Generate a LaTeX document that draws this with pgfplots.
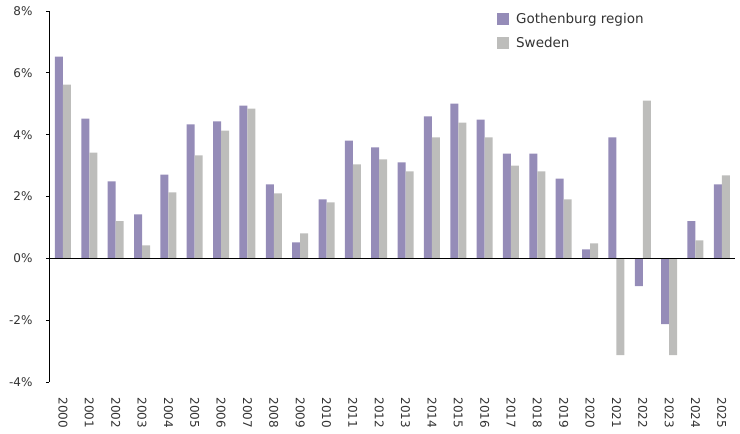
\documentclass[border=0pt]{standalone}
\usepackage{fontspec}
\setmainfont{DejaVu Sans}
\usepackage{pgfplots}
\pgfplotsset{compat=1.18}

\definecolor{gbg}{HTML}{958CB8}
\definecolor{swe}{HTML}{BDBDBB}
\definecolor{txt}{HTML}{333333}

% growth per year, 2000 = 0 ... 2025 = 25
\pgfplotstableread{
x  gbg    swe
0  6.52   5.62
1  4.52   3.42
2  2.49   1.20
3  1.42   0.42
4  2.71   2.13
5  4.33   3.33
6  4.43   4.13
7  4.94   4.84
8  2.39   2.10
9  0.52   0.81
10 1.91   1.81
11 3.81   3.04
12 3.59   3.20
13 3.10   2.81
14 4.59   3.91
15 5.00   4.39
16 4.49   3.91
17 3.39   3.00
18 3.39   2.81
19 2.58   1.91
20 0.29   0.48
21 3.91  -3.13
22 -0.90  5.10
23 -2.13 -3.13
24 1.20   0.58
25 2.39   2.68
}\growth

\begin{document}
\begin{tikzpicture}
\path (-49pt,-52pt) rectangle (691pt,382pt);
\begin{axis}[
    at={(0pt,0pt)}, anchor=south west,
    scale only axis,
    width=686pt, height=371pt,
    ybar=0pt, bar width=8pt,
    xmin=-0.53, xmax=25.5,
    ymin=-4, ymax=8,
    axis x line*=bottom, axis y line*=left,
    x axis line style={draw=none},
    y axis line style={black, line width=0.8pt},
    xtick=data,
    xticklabels={2000,2001,2002,2003,2004,2005,2006,2007,2008,2009,2010,2011,2012,2013,2014,2015,2016,2017,2018,2019,2020,2021,2022,2023,2024,2025},
    xtick style={draw=none},
    xticklabel style={rotate=-90, anchor=west, font=\fontsize{12}{14}\selectfont, text=txt, xshift=9pt},
    ytick={-4,-2,0,2,4,6,8},
    yticklabels={-4\%,-2\%,0\%,2\%,4\%,6\%,8\%},
    yticklabel style={font=\fontsize{12}{14}\selectfont, text=txt, xshift=-10pt},
    ytick style={black, line width=0.8pt},
    tick align=outside, major tick length=3pt,
    legend style={at={(0.653,1.0)}, anchor=north west, draw=none, fill=none,
        font=\fontsize{13.5}{15}\selectfont, text=txt, inner sep=0pt,
        row sep=8pt, cells={anchor=west}},
    legend image code/.code={\fill[#1] (0pt,-6pt) rectangle (12pt,6pt); \path (17pt,0pt);},
    clip=false,
]
\addplot[fill=gbg, draw=none] table[x=x, y=gbg] {\growth};
\addlegendentry{Gothenburg region}
\addplot[fill=swe, draw=none] table[x=x, y=swe] {\growth};
\addlegendentry{Sweden}
\draw[black, line width=0.8pt] (axis cs:-0.53,0) -- (axis cs:25.5,0);
\end{axis}
\end{tikzpicture}
\end{document}
